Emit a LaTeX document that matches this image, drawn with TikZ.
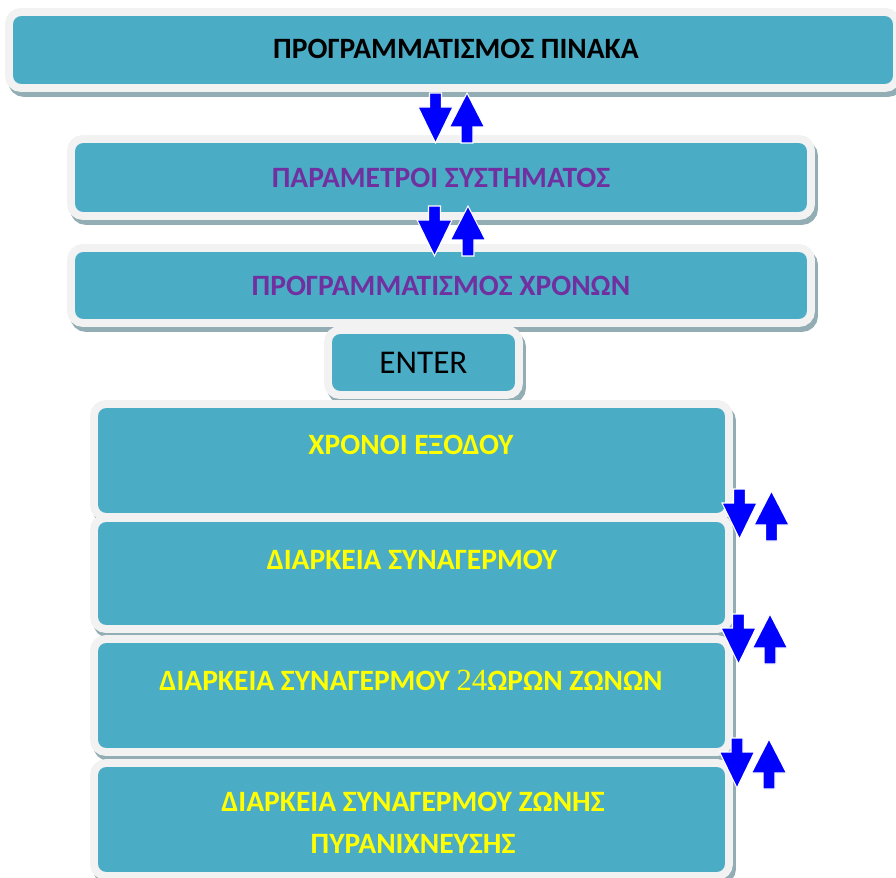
\documentclass[tikz,border=0pt]{standalone}
\usepackage{fontspec}
\setmainfont{Carlito}
\newfontfamily\numfont{Liberation Serif}
\usetikzlibrary{positioning}
\definecolor{boxteal}{HTML}{4BACC6}
\definecolor{rimwhite}{HTML}{F2F2F2}
\definecolor{rimshadow}{HTML}{93ADB4}
\definecolor{txtpurple}{HTML}{7030A0}
\definecolor{txtyellow}{HTML}{FFFF00}
\tikzset{MenuBox/.style={rectangle,rounded corners=6.8pt,fill=boxteal,draw=rimwhite,line width=4.5pt,inner sep=0pt,align=center,
  preaction={fill=rimshadow,draw=rimshadow,line width=4.5pt,transform canvas={xshift=1.7pt,yshift=-2.8pt}}}}
\tikzset{BoxSize/.style 2 args={minimum width=#1*0.02cm,minimum height=#2*0.02cm}}
\tikzset{MenuText/.style={font=\fontsize{16.8}{23.9}\selectfont\bfseries}}
\tikzset{DownArrow/.pic={\filldraw[fill=blue,draw=white,line width=0.6pt] (-6,0) -- (6,0) -- (6,14) -- (17.5,14) -- (0,50) -- (-17.5,14) -- (-6,14) -- cycle;}}
\tikzset{UpArrow/.pic={\filldraw[fill=blue,draw=white,line width=0.6pt] (0,0) -- (17.5,34) -- (6,34) -- (6,50) -- (-6,50) -- (-6,34) -- (-17.5,34) -- cycle;}}

\begin{document}
\begin{tikzpicture}[x=0.02cm,y=-0.02cm]
\useasboundingbox (0,0) rectangle (896,878);
\node (pinakas) at (453,50) [MenuBox,BoxSize={888}{76}] {};
\node (parametroi) at (441,177.5) [MenuBox,BoxSize={740}{77},MenuText,text=txtpurple] {ΠΑΡΑΜΕΤΡΟΙ ΣΥΣΤΗΜΑΤΟΣ};
\node (xronoi) at (441,285.5) [MenuBox,BoxSize={740}{75},MenuText,text=txtpurple] {ΠΡΟΓΡΑΜΜΑΤΙΣΜΟΣ ΧΡΟΝΩΝ};
\node (enter) at (423.5,362.5) [MenuBox,BoxSize={191}{65},font=\fontsize{18.9}{22}\selectfont] {ENTER};
\node (exodos) at (411.5,460.5) [MenuBox,BoxSize={635}{113}] {};
\node (synag) at (411.5,573.5) [MenuBox,BoxSize={635}{111}] {};
\node (zones) at (411.5,695.5) [MenuBox,BoxSize={635}{113}] {};
\node (pyra) at (411.5,819.5) [MenuBox,BoxSize={635}{113}] {};
\node (pinakas text) at (456,49) [MenuText] {ΠΡΟΓΡΑΜΜΑΤΙΣΜΟΣ ΠΙΝΑΚΑ};
\node (exodos text) at (411,445) [MenuText,text=txtyellow] {ΧΡΟΝΟΙ ΕΞΟΔΟΥ};
\node (synag text) at (412,560) [MenuText,text=txtyellow] {ΔΙΑΡΚΕΙΑ ΣΥΝΑΓΕΡΜΟΥ};
\node (zones text) at (411,680) [MenuText,text=txtyellow] {ΔΙΑΡΚΕΙΑ ΣΥΝΑΓΕΡΜΟΥ {\numfont\mdseries\fontsize{17.5}{20}\selectfont 24}ΩΡΩΝ ΖΩΝΩΝ};
\node (pyra text) at (413,823) [MenuText,text=txtyellow,align=center] {ΔΙΑΡΚΕΙΑ ΣΥΝΑΓΕΡΜΟΥ ΖΩΝΗΣ\\ΠΥΡΑΝΙΧΝΕΥΣΗΣ};
% up/down keys
\pic at (435.5,93) {DownArrow};
\pic at (467,93) {UpArrow};
\pic at (434.5,206) {DownArrow};
\pic at (468,206) {UpArrow};
\pic at (739.5,489) {DownArrow};
\pic at (771.5,491) {UpArrow};
\pic at (738.5,614) {DownArrow};
\pic at (770,614) {UpArrow};
\pic at (737,738) {DownArrow};
\pic at (769,739) {UpArrow};
\end{tikzpicture}
\end{document}
